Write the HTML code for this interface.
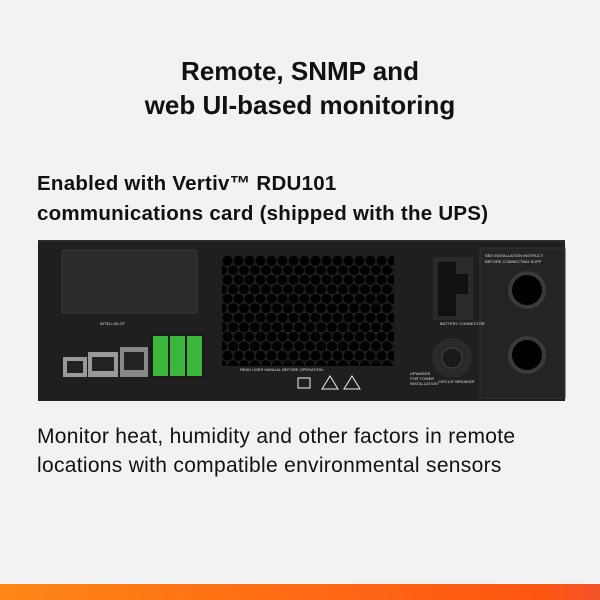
<!DOCTYPE html>
<html><head><style>
body{margin:0;width:600px;height:600px;background:#f2f2f2;position:relative;overflow:hidden;font-family:"Liberation Sans",sans-serif;color:#111}
.t{position:absolute;left:0;width:600px;text-align:center;font-weight:bold;font-size:26px;line-height:34px;top:54px}
.s{position:absolute;left:37px;font-weight:bold;font-size:20.5px;letter-spacing:0.25px;line-height:30px;top:169px;white-space:nowrap}
.b{position:absolute;left:37px;font-size:21px;letter-spacing:0.3px;line-height:29px;top:422px;white-space:nowrap}
.bar{position:absolute;left:0;top:584px;width:600px;height:16px;background:linear-gradient(90deg,#fd8716,#ff6a14 50%,#fe5612 90%,#f25428)}
</style></head><body>
<div class="t">Remote, SNMP and<br>web UI-based monitoring</div>
<div class="s">Enabled with Vertiv™ RDU101<br>communications card (shipped with the UPS)</div>
<svg style="position:absolute;left:0;top:0" width="600" height="600">
<defs>
<pattern id="h2" x="222" y="256" width="11" height="19" patternUnits="userSpaceOnUse"><circle cx="5.5" cy="4.75" r="5" fill="#000"/><circle cx="0" cy="14.25" r="5" fill="#000"/><circle cx="11" cy="14.25" r="5" fill="#000"/></pattern></defs>
<rect x="38" y="240" width="527" height="161" fill="#1f1f1f"/>
<rect x="38" y="240" width="527" height="2" fill="#2c2c2c"/>
<rect x="62" y="250" width="135" height="63" rx="2" fill="#2b2b2b" stroke="#3a3a3a"/>
<rect x="222" y="256" width="172" height="110" fill="url(#h2)"/>
<rect x="480" y="248" width="85" height="150" fill="#242424" stroke="#333"/>
<circle cx="527" cy="290" r="17" fill="#000" stroke="#3a3a3a" stroke-width="4"/>
<circle cx="527" cy="355" r="17" fill="#000" stroke="#3a3a3a" stroke-width="4"/>
<rect x="433" y="257" width="40" height="63" fill="#2a2a2a"/>
<path d="M438 262h18v12h12v20h-12v22h-18z" fill="#111"/>
<circle cx="452" cy="358" r="20" fill="#2a2a2a"/><circle cx="452" cy="358" r="10" fill="#1a1a1a" stroke="#444"/>
<rect x="150" y="333" width="55" height="45" fill="#1a1a1a"/>
<rect x="153" y="336" width="15" height="40" fill="#3bb83b"/><rect x="170" y="336" width="15" height="40" fill="#3bb83b"/><rect x="187" y="336" width="15" height="40" fill="#3bb83b"/>
<rect x="63" y="357" width="24" height="20" fill="#999"/><rect x="67" y="361" width="16" height="12" fill="#222"/>
<rect x="88" y="352" width="30" height="25" fill="#999"/><rect x="92" y="357" width="22" height="14" fill="#222"/>
<rect x="120" y="347" width="28" height="30" fill="#888"/><rect x="124" y="352" width="20" height="18" fill="#222"/>
<g fill="#ddd" font-size="4" font-family="Liberation Sans">
<text x="100" y="325">INTELLISLOT</text><text x="240" y="371">READ USER MANUAL BEFORE OPERATION.</text>
<text x="410" y="375">UPWARDS</text><text x="410" y="380">FOR TOWER</text><text x="410" y="385">INSTALLATION</text>
<text x="440" y="325">BATTERY CONNECTOR</text><text x="438" y="383">CIRCUIT BREAKER</text>
<text x="485" y="257">SEE INSTALLATION INSTRUCT</text><text x="485" y="263">BEFORE CONNECTING SUPP</text>
</g>
<g fill="none" stroke="#eee" stroke-width="1"><path d="M330 376l8 13h-16z"/><path d="M352 376l8 13h-16z"/><path d="M298 378h12v10h-12z"/></g>
</svg>
<div class="b">Monitor heat, humidity and other factors in remote<br>locations with compatible environmental sensors</div>
<div class="bar"></div>
</body></html>
